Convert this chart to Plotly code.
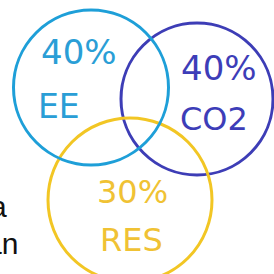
import plotly.graph_objects as go

# Data
labels = ["EE", "CO2", "RES"]
shares = [40, 40, 30]
colors = ["#1e9fd8", "#3d3db6", "#f2c624"]
text_colors = ["#2a9ed6", "#3d3db8", "#f0c234"]
# circle layout (centre x, centre y, radius) in pixel-like units
centres_x = [91, 197, 130]
centres_y = [87.5, 99, 200]
radii = [77.5, 76, 82]
# label placements
pct_pos = [(79, 52), (218.5, 67.5), (132, 191.5)]
name_pos = [(58.5, 106.5), (214, 118.5), (131.5, 240)]
pct_size = [34, 34, 32]
name_size = [33, 32, 32]
side_texts = ["a", "an"]
side_pos = [(9, 206), (20, 243)]

fig = go.Figure()
fig.add_trace(go.Scatter(x=[0, 274], y=[0, 274], mode="markers",
                         marker=dict(opacity=0), hoverinfo="skip", showlegend=False))

shapes = []
for i in [1, 2, 0]:
    shapes.append(dict(type="circle", xref="x", yref="y",
                       x0=centres_x[i] - radii[i], x1=centres_x[i] + radii[i],
                       y0=centres_y[i] - radii[i], y1=centres_y[i] + radii[i],
                       line=dict(color=colors[i], width=3)))

annotations = []
for i in range(3):
    annotations.append(dict(x=pct_pos[i][0], y=pct_pos[i][1], xref="x", yref="y",
                            text=f"{shares[i]}%", showarrow=False,
                            xanchor="center", yanchor="middle",
                            font=dict(family="DejaVu Sans", size=pct_size[i], color=text_colors[i])))
    annotations.append(dict(x=name_pos[i][0], y=name_pos[i][1], xref="x", yref="y",
                            text=labels[i], showarrow=False,
                            xanchor="center", yanchor="middle",
                            font=dict(family="DejaVu Sans", size=name_size[i], color=text_colors[i])))
for t, (px, py) in zip(side_texts, side_pos):
    annotations.append(dict(x=px, y=py, xref="x", yref="y", text=t, showarrow=False,
                            xanchor="right", yanchor="middle",
                            font=dict(family="Liberation Sans", size=30, color="#111111")))

fig.update_layout(
    width=274, height=274,
    margin=dict(l=0, r=0, t=0, b=0),
    paper_bgcolor="white", plot_bgcolor="white",
    xaxis=dict(range=[0, 274], visible=False, fixedrange=True),
    yaxis=dict(range=[274, 0], visible=False, fixedrange=True),
    shapes=shapes, annotations=annotations, showlegend=False,
)
fig.write_html("out.html", config={"displayModeBar": False},
               post_script="document.body.style.margin='0px';document.body.style.overflow='hidden';")
